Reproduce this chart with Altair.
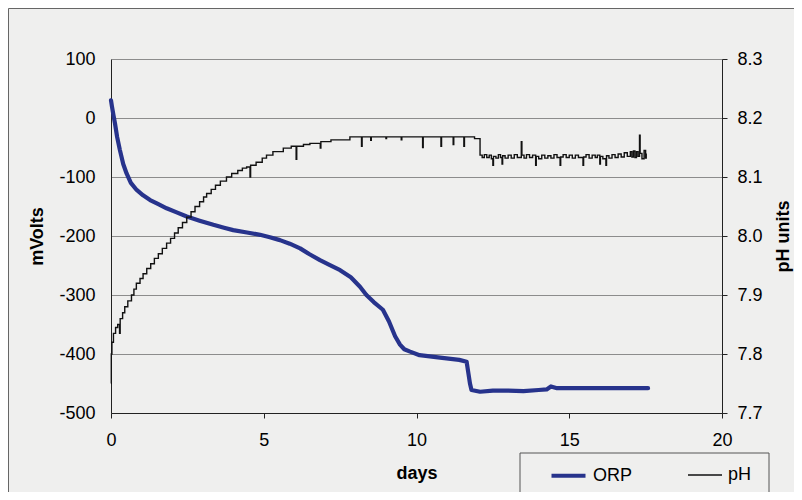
import altair as alt
import pandas as pd

# ---------------- data ----------------
orp_days = [0.00, 0.03, 0.08, 0.13, 0.20, 0.29, 0.40, 0.51, 0.65, 0.84, 1.05, 1.28, 1.55,
            1.82, 2.15, 2.48, 2.90, 3.35, 3.70, 4.00, 4.45, 4.88, 5.20, 5.53, 5.85, 6.19,
            6.50, 6.84, 7.15, 7.50, 7.85, 8.15, 8.36, 8.60, 8.90, 9.10, 9.30, 9.46, 9.60,
            9.79, 10.10, 10.77, 11.40, 11.64, 11.70, 11.75, 11.80, 12.08, 12.50, 13.00,
            13.50, 14.00, 14.26, 14.40, 14.60, 15.00, 16.00, 17.00, 17.58]
orp_mv = [30, 20, 5, -9, -32, -54, -78, -94, -110, -122, -131, -139, -146,
          -153, -160, -167, -174, -181, -186, -190, -194, -198, -202, -207, -213, -221,
          -231, -241, -249, -258, -270, -286, -300, -312, -325, -345, -370, -384, -392,
          -396, -402, -406, -410, -413, -433, -450, -461, -464, -462, -462,
          -463, -461, -460, -455, -458, -458, -458, -458, -458]

# pH, rising part (day 0 - 12)
ph_days_rise = [0.00, 0.01, 0.03, 0.08, 0.15, 0.22, 0.28, 0.30, 0.38, 0.45,
                0.55, 0.67, 0.75, 0.83, 0.95, 1.05, 1.17, 1.30, 1.42, 1.55,
                1.68, 1.82, 1.95, 2.08, 2.20, 2.34, 2.48, 2.62, 2.75, 2.90,
                3.03, 3.13, 3.28, 3.42, 3.58, 3.78, 3.95, 4.15, 4.30, 4.44,
                4.55, 4.57, 4.75, 4.95, 5.09, 5.30, 5.64, 5.90, 6.06, 6.08,
                6.30, 6.51, 6.85, 6.87, 7.20, 7.50, 7.82, 8.20, 8.22, 8.50,
                8.52, 9.00, 9.02, 9.50, 9.52, 10.20, 10.22, 10.80, 10.82, 11.20,
                11.22, 11.55, 11.57, 11.90]
ph_vals_rise = [7.750, 7.800, 7.820, 7.835, 7.845, 7.850, 7.835, 7.860, 7.870, 7.880,
                7.890, 7.900, 7.910, 7.920, 7.928, 7.936, 7.945, 7.953, 7.962, 7.970,
                7.979, 7.988, 7.996, 8.005, 8.014, 8.023, 8.032, 8.041, 8.050, 8.058,
                8.066, 8.072, 8.079, 8.086, 8.093, 8.100, 8.106, 8.111, 8.115, 8.117,
                8.100, 8.120, 8.125, 8.132, 8.137, 8.143, 8.149, 8.152, 8.130, 8.152,
                8.155, 8.157, 8.149, 8.160, 8.163, 8.163, 8.168, 8.152, 8.168, 8.162,
                8.168, 8.165, 8.168, 8.163, 8.168, 8.150, 8.168, 8.152, 8.168, 8.155,
                8.168, 8.152, 8.168, 8.165]

# pH, lower plateau (day 12 - 17.5)
ph_days_late = [12.08, 12.15, 12.22, 12.30, 12.38, 12.45, 12.50, 12.52, 12.60, 12.68,
                12.75, 12.80, 12.82, 12.90, 13.00, 13.10, 13.20, 13.30, 13.43, 13.45,
                13.52, 13.60, 13.70, 13.80, 13.90, 13.92, 14.00, 14.10, 14.20, 14.30,
                14.40, 14.50, 14.60, 14.70, 14.72, 14.80, 14.90, 15.00, 15.10, 15.20,
                15.30, 15.45, 15.47, 15.55, 15.65, 15.75, 15.85, 15.92, 16.00, 16.02,
                16.10, 16.20, 16.22, 16.30, 16.40, 16.50, 16.60, 16.70, 16.80, 16.90,
                17.00, 17.05, 17.10, 17.15, 17.20, 17.25, 17.30, 17.32, 17.38, 17.45,
                17.50, 17.52]
ph_vals_late = [8.137, 8.133, 8.138, 8.133, 8.137, 8.131, 8.120, 8.135, 8.132, 8.138,
                8.133, 8.122, 8.136, 8.132, 8.137, 8.132, 8.138, 8.133, 8.160, 8.137,
                8.132, 8.138, 8.133, 8.137, 8.120, 8.135, 8.131, 8.137, 8.132, 8.136,
                8.132, 8.138, 8.133, 8.120, 8.134, 8.138, 8.133, 8.137, 8.132, 8.137,
                8.133, 8.120, 8.134, 8.138, 8.132, 8.137, 8.133, 8.137, 8.122, 8.135,
                8.131, 8.120, 8.136, 8.132, 8.138, 8.133, 8.139, 8.134, 8.141, 8.135,
                8.143, 8.134, 8.144, 8.133, 8.143, 8.135, 8.171, 8.140, 8.131, 8.145,
                8.132, 8.140]

series_names = ["ORP", "pH"]
series_colors = ["#27338c", "#111111"]
series_widths = [4.2, 1.4]

mv_ticks = [-500, -400, -300, -200, -100, 0, 100]
ph_ticks = [7.7, 7.8, 7.9, 8.0, 8.1, 8.2, 8.3]
day_ticks = [0, 5, 10, 15, 20]

# ---------------- tables ----------------
orp_df = pd.DataFrame({"days": orp_days, "value": orp_mv, "series": series_names[0]})
ph_df = pd.DataFrame({"days": ph_days_rise + ph_days_late,
                      "value": ph_vals_rise + ph_vals_late, "series": series_names[1]})
deco_df = pd.DataFrame({"k": [0]})

FONT = "Liberation Sans"

legend = alt.Legend(
    title=None, orient="none", direction="horizontal", legendX=438, legendY=397,
    symbolType="stroke", symbolSize=1156, labelFontSize=18, labelFont=FONT,
    labelColor="black", labelOffset=5, columnPadding=52, padding=0,
)

color_enc = alt.Color("series:N", scale=alt.Scale(domain=series_names, range=series_colors), legend=legend)
width_enc = alt.StrokeWidth("series:N", scale=alt.Scale(domain=series_names, range=series_widths), legend=legend)

x_enc = alt.X("days:Q", scale=alt.Scale(domain=[0, 20], nice=False),
              axis=alt.Axis(title="days", values=day_ticks, format="d", grid=False,
                            tickSize=5, labelPadding=13, labelFlush=False, titlePadding=15,
                            domainColor="#222", tickColor="#222"))

orp_line = alt.Chart(orp_df).mark_line(interpolate="linear", strokeCap="round", strokeJoin="round").encode(
    x=x_enc,
    y=alt.Y("value:Q", scale=alt.Scale(domain=[-500, 100], nice=False),
            axis=alt.Axis(title="mVolts", orient="left", values=mv_ticks, grid=True,
                          gridColor="#8c8c8c", gridWidth=1, tickSize=0, labelPadding=16,
                          labelExpr="datum.value < 0 ? '-' + abs(datum.value) : '' + datum.value",
                          titlePadding=12, domainColor="#222")),
    color=color_enc,
    strokeWidth=width_enc,
)

ph_line = alt.Chart(ph_df).mark_line(interpolate="step-after").encode(
    x=x_enc,
    y=alt.Y("value:Q", scale=alt.Scale(domain=[7.7, 8.3], nice=False, zero=False),
            axis=alt.Axis(title="pH units", orient="right", values=ph_ticks, format=".1f",
                          grid=False, tickSize=5, labelPadding=10, titlePadding=30,
                          titleAngle=270, domainColor="#222", tickColor="#222")),
    color=color_enc,
    strokeWidth=width_enc,
)

legend_box = alt.Chart(deco_df).mark_rect(fill="transparent", stroke="#555", strokeWidth=1).encode(
    x=alt.value(409), x2=alt.value(658), y=alt.value(394), y2=alt.value(470)
)
outer_frame = alt.Chart(deco_df).mark_rect(fill="transparent", stroke="#666", strokeWidth=1).encode(
    x=alt.value(-102.5), x2=alt.value(720), y=alt.value(-50.5), y2=alt.value(470)
)

chart = alt.layer(outer_frame, orp_line, ph_line, legend_box).resolve_scale(
    y="independent"
).properties(
    width=611, height=354,
    autosize=alt.AutoSizeParams(type="none"),
    padding={"left": 103, "top": 51, "right": 72, "bottom": 79},
    background="#efefee",
).configure_view(stroke=None).configure_axis(
    labelFont=FONT, labelFontSize=18, labelColor="black",
    titleFont=FONT, titleFontSize=18, titleFontWeight="bold", titleColor="black",
)

chart.save("out.html", embed_options={"renderer": "svg", "actions": False})
